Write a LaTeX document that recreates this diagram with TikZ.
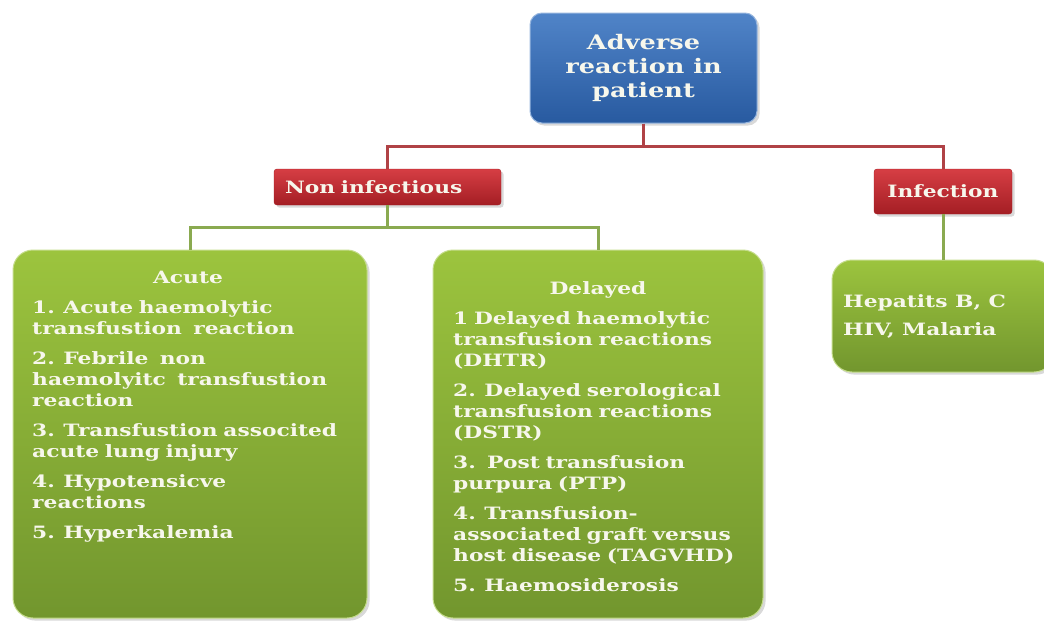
\documentclass[tikz,border=0pt]{standalone}
\usepackage{fontspec}
\setmainfont{DejaVu Serif}[FakeStretch=1.28]
\usetikzlibrary{shadows}
\definecolor{BlueTopClr}{RGB}{80,132,200}
\definecolor{BlueBotClr}{RGB}{40,90,160}
\definecolor{RedTopClr}{RGB}{214,62,68}
\definecolor{RedBotClr}{RGB}{164,30,36}
\definecolor{GreenTopClr}{RGB}{156,196,62}
\definecolor{GreenBotClr}{RGB}{114,150,46}
\definecolor{RedLineClr}{RGB}{176,66,70}
\definecolor{GreenLineClr}{RGB}{138,170,80}
\definecolor{TextClr}{RGB}{247,247,236}
\newcommand\boxfont{\fontsize{17}{21}\selectfont\bfseries}
\newcommand\topfont{\fontsize{20}{24}\selectfont\bfseries}

\begin{document}
\begin{tikzpicture}[x=1pt,y=-1pt,
  every node/.style={font=\boxfont,text=TextClr},
  bluebox/.style={rounded corners=12pt,draw=BlueTopClr!60!white,line width=1pt,
    top color=BlueTopClr,bottom color=BlueBotClr,drop shadow={opacity=0.3}},
  redbox/.style={rounded corners=3pt,draw=RedBotClr,
    top color=RedTopClr,bottom color=RedBotClr,drop shadow={opacity=0.3}},
  greenbox/.style={rounded corners=20pt,draw=GreenTopClr!60!white,line width=1pt,
    top color=GreenTopClr,bottom color=GreenBotClr,drop shadow={opacity=0.3}},
  redline/.style={draw=RedLineClr,line width=3pt},
  greenline/.style={draw=GreenLineClr,line width=3pt},
  listtext/.style={inner sep=0pt,align=left,anchor=north west}]
\useasboundingbox (0,0) rectangle (1044,622);

\node[bluebox,minimum width=227pt,minimum height=110pt,align=center,font=\topfont]
  (adverse) at (643.5,68) {Adverse\\reaction in\\patient};

\node[redbox,minimum height=36pt,text width=205pt,inner xsep=11pt,align=left]
  (noninf) at (387.5,187) {Non infectious};
\node[redbox,minimum width=138pt,minimum height=45pt] (infect) at (943,191.5) {Infection};

\node[greenbox,minimum width=354pt,minimum height=368pt] (acute) at (190,434) {};
\node[greenbox,minimum width=330pt,minimum height=368pt] (delayed) at (598,434) {};
\node[greenbox,minimum width=222pt,minimum height=112pt] (hep) at (943,316) {};

\draw[redline] (adverse.south) -- ++(0,23) -| (noninf.north);
\draw[redline] (adverse.south) -- ++(0,23) -| (infect.north);
\draw[greenline] (noninf.south) -- ++(0,22) -| (acute.north);
\draw[greenline] (noninf.south) -- ++(0,22) -| (delayed.north);
\draw[greenline] (infect.south) -- (hep.north);

\node[inner sep=0pt,anchor=base] (acutehead) at (188,283) {Acute};
\node[listtext,text width=330pt] (acutelist) at (32,300) {1. Acute haemolytic\\
transfustion\ \ reaction\\[9pt]
2. Febrile\ \ non\\
haemolyitc\ \ transfustion\\
reaction\\[9pt]
3. Transfustion associted\\
acute lung injury\\[9pt]
4. Hypotensicve\\
reactions\\[9pt]
5. Hyperkalemia};

\node[inner sep=0pt,anchor=base] (delayedhead) at (598,294) {Delayed};
\node[listtext,text width=300pt] (delayedlist) at (453,311) {1 Delayed haemolytic\\
transfusion reactions\\
(DHTR)\\[9pt]
2. Delayed serological\\
transfusion reactions\\
(DSTR)\\[9pt]
3.\ \ Post transfusion\\
purpura (PTP)\\[9pt]
4. Transfusion-\\
associated graft versus\\
host disease (TAGVHD)\\[9pt]
5. Haemosiderosis};

\node[inner sep=0pt,align=left,anchor=west] (heplist) at (843,316) {Hepatits B, C\\[7pt]
HIV, Malaria};

\end{tikzpicture}
\end{document}
